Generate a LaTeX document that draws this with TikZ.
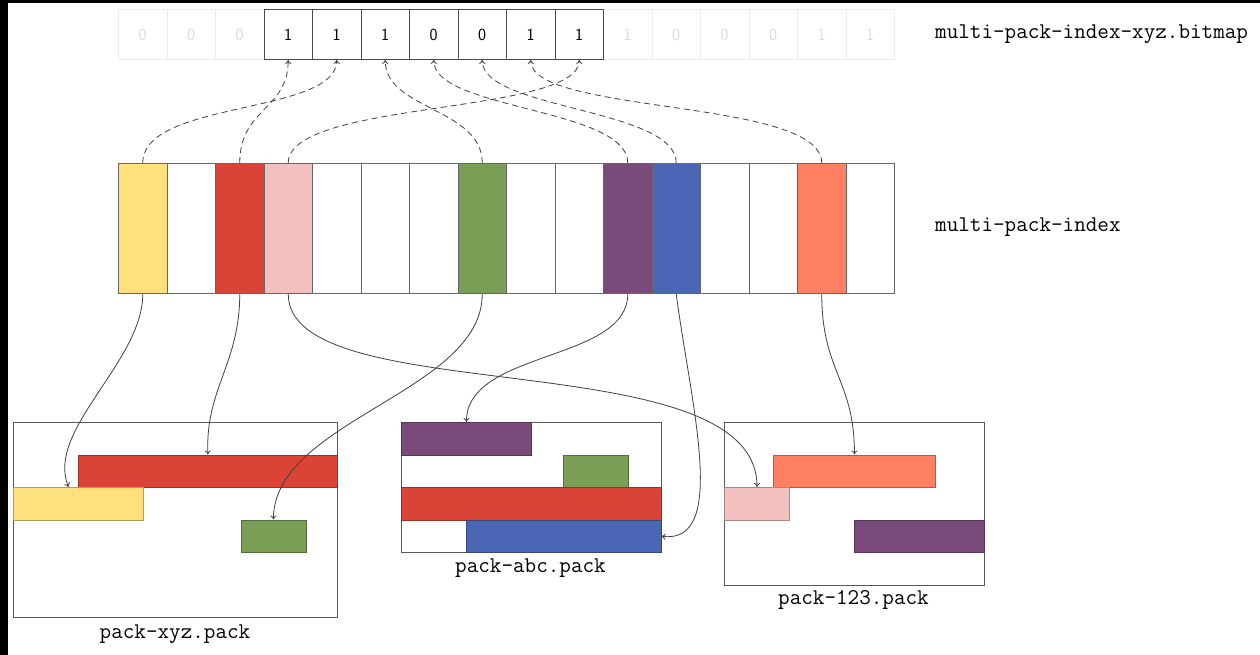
\documentclass[tikz,border=0pt]{standalone}
\usepackage{fontspec}
\usetikzlibrary{arrows.meta}
\definecolor{cYellow}{HTML}{FFE07C}
\definecolor{cRed}{HTML}{D94436}
\definecolor{cPink}{HTML}{F3C0C0}
\definecolor{cGreen}{HTML}{7A9E56}
\definecolor{cPurple}{HTML}{7A4A7A}
\definecolor{cBlue}{HTML}{4A66B4}
\definecolor{cSalmon}{HTML}{FF8062}
\begin{document}
\begin{tikzpicture}[x=1pt,y=-1pt,
  bitcell/.style={draw=black!70, line width=0.9pt, minimum width=48.5pt, minimum height=50pt,
    inner sep=0pt, anchor=north west, font=\sffamily\fontsize{17}{20}\selectfont},
  faded/.style={draw=black!7, text=black!14},
  idxcell/.style={draw=black!60, line width=1pt, minimum width=48.5pt, minimum height=130pt,
    inner sep=0pt, anchor=north west},
  packbox/.style={draw=black!65, line width=1pt, fill=white, inner sep=0pt, anchor=north west},
  blk/.style={draw=#1!70!black, fill=#1, line width=0.9pt, inner sep=0pt, anchor=north west,
    minimum height=32.5pt},
  lbl/.style={font=\ttfamily\fontsize{22.5}{26}\selectfont, inner sep=0pt},
  link/.style={draw=black!75, line width=0.8pt, -{To[length=4pt,width=6pt]}},
  bitlink/.style={link, dash pattern=on 6pt off 4pt},
]
\useasboundingbox (0,0) rectangle (1260,655);
\fill[black] (0,0) rectangle (1260,655);
\fill[white] (8,3) rectangle (1260,655);

% bitmap row: faded cells first, active cells on top
\foreach \i/\b in {0/0,1/0,2/0,10/1,11/0,12/0,13/0,14/1,15/1}
  \node[bitcell,faded] (b\i) at ({118+48.5*\i},9) {\b};
\foreach \i/\b in {3/1,4/1,5/1,6/0,7/0,8/1,9/1}
  \node[bitcell] (b\i) at ({118+48.5*\i},9) {\b};
\node[lbl, anchor=west] (bmplbl) at (935,34) {multi-pack-index-xyz.bitmap};

% multi-pack-index row
\foreach \c [count=\n from 0] in {cYellow,white,cRed,cPink,white,white,white,cGreen,white,white,cPurple,cBlue,white,white,cSalmon,white}
  \node[idxcell, fill=\c] (m\n) at ({118+48.5*\n},163) {};
\node[lbl, anchor=west] (midxlbl) at (935,227) {multi-pack-index};

% pack-xyz.pack
\node[packbox, minimum width=324pt, minimum height=195pt] (xyz) at (13,422) {};
\node[blk=cRed, minimum width=259pt] (xyzR) at (78,454.5) {};
\node[blk=cYellow, minimum width=130pt] (xyzY) at (13,487) {};
\node[blk=cGreen, minimum width=65pt] (xyzG) at (240.5,519.5) {};
\node[lbl] (xyzlbl) at (175,634) {pack-xyz.pack};

% pack-abc.pack
\node[packbox, minimum width=259.5pt, minimum height=130pt] (abc) at (401,422) {};
\node[blk=cPurple, minimum width=130pt] (abcP) at (401,422) {};
\node[blk=cGreen, minimum width=65pt] (abcG) at (563,454.5) {};
\node[blk=cRed, minimum width=259.5pt] (abcR) at (401,487) {};
\node[blk=cBlue, minimum width=194.5pt] (abcB) at (466,519.5) {};
\node[lbl] (abclbl) at (530.5,568) {pack-abc.pack};

% pack-123.pack
\node[packbox, minimum width=259.5pt, minimum height=162.5pt] (ott) at (724,422) {};
\node[blk=cSalmon, minimum width=162.5pt] (p123S) at (772.75,454.5) {};
\node[blk=cPink, minimum width=65pt] (p123K) at (724,487) {};
\node[blk=cPurple, minimum width=129.5pt] (p123P) at (854,519.5) {};
\node[lbl] (ottlbl) at (853.5,600) {pack-123.pack};

% index entries to bitmap positions
\draw[bitlink] (m2.north) .. controls +(0,-55) and +(0,50) .. (b3.south);
\draw[bitlink] (m0.north) .. controls +(0,-63) and +(0,55) .. (b4.south);
\draw[bitlink] (m7.north) .. controls +(0,-55) and +(0,50) .. (b5.south);
\draw[bitlink] (m10.north) .. controls +(0,-55) and +(0,50) .. (b6.south);
\draw[bitlink] (m11.north) .. controls +(0,-55) and +(0,50) .. (b7.south);
\draw[bitlink] (m14.north) .. controls +(0,-65) and +(0,55) .. (b8.south);
\draw[bitlink] (m3.north) .. controls +(0,-63) and +(0,55) .. (b9.south);

% index entries to objects in packs
\draw[link] (m0.south) .. controls +(0,68) and +(-23,-57) .. ([xshift=-10pt]xyzY.north);
\draw[link] (m2.south) .. controls +(0,70) and +(-3,-65) .. (xyzR.north);
\draw[link] (m3.south) .. controls +(0,118) and +(0,-147) .. (p123K.north);
\draw[link] (m7.south) .. controls +(0,98) and +(0,-99) .. (xyzG.north);
\draw[link] (m10.south) .. controls +(0,68) and +(0,-72) .. (abcP.north);
\draw[link] (m11.south) .. controls +(14,108) and +(68,9) .. (abcB.east);
\draw[link] (m14.south) .. controls +(0,78) and +(0,-75) .. (p123S.north);
\end{tikzpicture}
\end{document}
